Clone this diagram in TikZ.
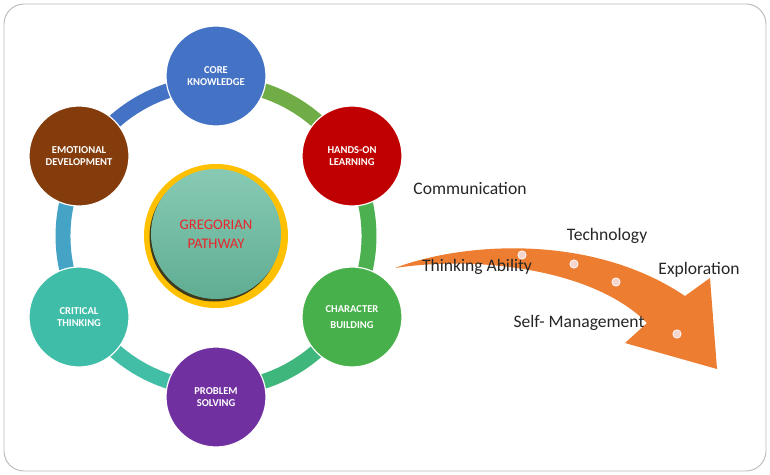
\documentclass[tikz,border=0pt]{standalone}
\usepackage{fontspec}
\setmainfont{Carlito}
\usetikzlibrary{positioning,calc}

\definecolor{coreblue}{HTML}{4472C4}
\definecolor{handsred}{HTML}{C00000}
\definecolor{emobrown}{HTML}{843C0C}
\definecolor{critteal}{HTML}{40BDA8}
\definecolor{chargreen}{HTML}{47B04A}
\definecolor{probpurple}{HTML}{7030A0}
\definecolor{segA}{HTML}{70AD47}
\definecolor{segB}{HTML}{4CB050}
\definecolor{segC}{HTML}{3FB77C}
\definecolor{segD}{HTML}{42BEA6}
\definecolor{segE}{HTML}{45A3C6}
\definecolor{segF}{HTML}{4472C4}
\definecolor{hubgold}{HTML}{FFC000}
\definecolor{hubtop}{HTML}{88CAB3}
\definecolor{hubbottom}{HTML}{5FAD93}
\definecolor{hubshadow}{HTML}{3E3A1E}
\definecolor{hubred}{HTML}{E8262C}
\definecolor{arroworange}{HTML}{ED7D31}
\definecolor{dotpink}{HTML}{F6D5CC}
\definecolor{wordgray}{HTML}{262626}

\begin{document}
\begin{tikzpicture}[x=0.03cm,y=-0.03cm,
  bubble/.style={circle, draw=white, line width=1pt, minimum size=3cm, inner sep=0pt,
    text=white, align=center, font=\fontsize{9}{10}\selectfont\bfseries},
  ringseg/.style={line width=12.75pt},
  word/.style={font=\fontsize{15}{18}\selectfont, text=wordgray},
  spot/.style={circle, fill=dotpink, draw=white, line width=0.6pt, minimum size=0.25cm, inner sep=0pt}]
\useasboundingbox (0,0) rectangle (770,475);

% Frame
\draw[gray!55, line width=0.8pt, rounded corners=0.6cm] (4,4) rectangle (766,471);

% Ring
\coordinate (hub) at (216,236);
\draw[ringseg, segA] (hub) ++(30:4.59cm) arc[start angle=30, end angle=90, radius=4.59cm];
\draw[ringseg, segB] (hub) ++(-30:4.59cm) arc[start angle=-30, end angle=30, radius=4.59cm];
\draw[ringseg, segC] (hub) ++(-90:4.59cm) arc[start angle=-90, end angle=-30, radius=4.59cm];
\draw[ringseg, segD] (hub) ++(-150:4.59cm) arc[start angle=-150, end angle=-90, radius=4.59cm];
\draw[ringseg, segE] (hub) ++(150:4.59cm) arc[start angle=150, end angle=210, radius=4.59cm];
\draw[ringseg, segF] (hub) ++(90:4.59cm) arc[start angle=90, end angle=150, radius=4.59cm];

% Bubbles
\node[bubble, fill=coreblue] (core) at (216,76) {CORE\\KNOWLEDGE};
\node[bubble, fill=handsred] (hands) at (352,156) {HANDS-ON\\LEARNING};
\node[bubble, fill=chargreen, font=\fontsize{9}{13}\selectfont\bfseries] (character) at (352,317) {CHARACTER\\BUILDING};
\node[bubble, fill=probpurple] (problem) at (216,397) {PROBLEM\\SOLVING};
\node[bubble, fill=critteal] (critical) at (79,317) {CRITICAL\\THINKING};
\node[bubble, fill=emobrown] (emotional) at (79,156) {EMOTIONAL\\DEVELOPMENT};

% Centre
\node[circle, fill=hubgold, minimum size=4.32cm, inner sep=0pt] (gold) at (216,236) {};
\node[circle, fill=hubshadow, minimum size=3.9cm, inner sep=0pt] (shade) at (214.5,236.5) {};
\node[circle, top color=hubtop, bottom color=hubbottom, minimum size=3.9cm, inner sep=0pt,
  text=hubred, align=center, font=\fontsize{12.5}{16}\selectfont] (pathway) at (216,234) {GREGORIAN\\PATHWAY};

% Arrow
\fill[arroworange] (395,268) .. controls (460,243) and (590,232) .. (685,296)
  -- (710,278) -- (717,369) -- (625,343) -- (647,323)
  .. controls (595,270) and (480,255) .. cycle;
\node[spot] (d1) at (522,255) {};
\node[spot] (d2) at (574,264) {};
\node[spot] (d3) at (616,282) {};
\node[spot] (d4) at (677,334) {};

% Labels
\node[word] (communication) at (470,188) {Communication};
\node[word] (technology) at (607,236) {Technology};
\node[word] (exploration) at (699,270) {Exploration};
\node[word] (thinking) at (477,267) {Thinking Ability};
\node[word] (selfman) at (579,323) {Self- Management};

\end{tikzpicture}
\end{document}
